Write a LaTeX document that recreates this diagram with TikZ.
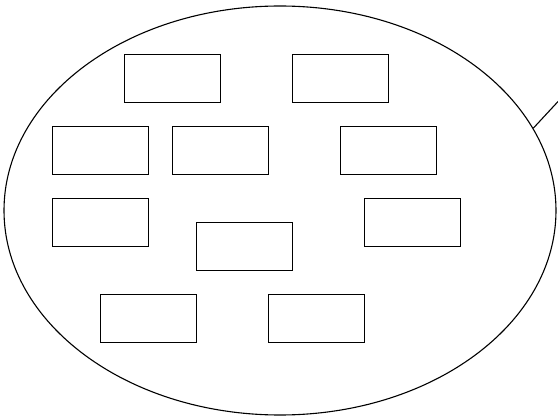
\documentclass[tikz,border=0pt]{standalone}
\usetikzlibrary{shapes.geometric}
\begin{document}
\begin{tikzpicture}[x=1pt,y=-1pt,
  box/.style={draw,line width=1.2pt,minimum width=96pt,minimum height=48pt,inner sep=0pt,anchor=north west},
  oval/.style={draw,ellipse,line width=1.1pt,minimum width=552pt,minimum height=409pt,inner sep=0pt}]
\useasboundingbox (0,0) rectangle (558,417);
\clip (0,0) rectangle (558,417);
\node[oval] (ell) at (280,210.5) {};
\node[box] (b1) at (124,54) {};
\node[box] (b2) at (292,54) {};
\node[box] (b3) at (52,126) {};
\node[box] (b4) at (172,126) {};
\node[box] (b5) at (340,126) {};
\node[box] (b6) at (52,198) {};
\node[box] (b7) at (196,222) {};
\node[box] (b8) at (364,198) {};
\node[box] (b9) at (100,294) {};
\node[box] (b10) at (268,294) {};
\coordinate (tail) at (578,80);
\draw[line width=1.1pt] (ell.18.7) -- (tail);
\end{tikzpicture}
\end{document}
